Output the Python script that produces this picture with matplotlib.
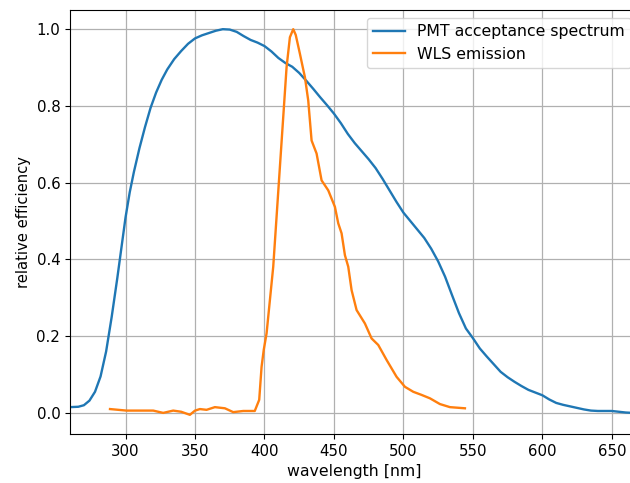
import matplotlib
matplotlib.use("Agg")
import matplotlib.pyplot as plt

# PMT acceptance spectrum
pmt_wl = [260, 266, 270, 274, 278, 282, 286, 290, 294, 297, 300, 303, 306, 310, 314,
          318, 322, 326, 330, 335, 340, 345, 350, 355, 360, 365, 370, 375, 380, 385,
          390, 395, 400, 405, 410, 415, 420, 425, 430, 435, 440, 445, 450, 455, 460,
          465, 470, 475, 480, 485, 490, 495, 500, 505, 510, 515, 520, 525, 530, 535,
          540, 545, 550, 555, 560, 565, 570, 575, 580, 585, 590, 595, 600, 605, 610,
          615, 620, 625, 630, 635, 640, 645, 650, 655, 660, 665, 670]
pmt_eff = [0.015, 0.016, 0.020, 0.032, 0.055, 0.095, 0.160, 0.250, 0.350, 0.430, 0.510,
           0.575, 0.628, 0.690, 0.745, 0.795, 0.835, 0.868, 0.895, 0.922, 0.943, 0.962,
           0.976, 0.984, 0.990, 0.996, 1.000, 0.999, 0.993, 0.982, 0.972, 0.965, 0.956,
           0.942, 0.925, 0.912, 0.902, 0.886, 0.866, 0.845, 0.823, 0.802, 0.780, 0.755,
           0.727, 0.703, 0.682, 0.661, 0.638, 0.610, 0.580, 0.550, 0.522, 0.500, 0.478,
           0.456, 0.428, 0.395, 0.355, 0.307, 0.260, 0.220, 0.195, 0.168, 0.147, 0.127,
           0.107, 0.093, 0.081, 0.070, 0.060, 0.053, 0.046, 0.035, 0.026, 0.021, 0.017,
           0.013, 0.009, 0.006, 0.005, 0.005, 0.005, 0.003, 0.001, 0.000, -0.001]

# WLS emission spectrum
wls_wl = [288.8, 300.7, 310, 319.9, 327.1, 334.3, 340, 346.3, 350, 353.5, 358.3, 364.3,
          371.5, 377.5, 384.7, 393, 396.2, 397.9, 399.5, 401.5, 403.9, 406.3, 408.7,
          411.1, 413.5, 415.9, 418.3, 420.7, 422.5, 425.5, 427.9, 429.1, 431.5, 433.9,
          437.5, 441.1, 445.9, 450.7, 453.1, 455.5, 457.9, 460.3, 462.7, 466.3, 472.3,
          477.1, 481.9, 487.9, 495.1, 501.1, 507.1, 513, 519.1, 526.3, 533.5, 544.3]
wls_em = [0.010, 0.006, 0.006, 0.006, 0.000, 0.006, 0.003, -0.005, 0.006, 0.010, 0.008,
          0.015, 0.012, 0.002, 0.005, 0.005, 0.034, 0.120, 0.165, 0.207, 0.294, 0.381,
          0.511, 0.641, 0.771, 0.901, 0.979, 1.000, 0.985, 0.936, 0.895, 0.875, 0.814,
          0.710, 0.676, 0.606, 0.580, 0.537, 0.494, 0.468, 0.411, 0.381, 0.320, 0.268,
          0.233, 0.194, 0.177, 0.138, 0.094, 0.068, 0.055, 0.047, 0.038, 0.023, 0.015,
          0.012]

fig = plt.figure(figsize=(6.3, 4.83), dpi=100)
# the reference is cropped on the right: axes run past the image edge
ax = fig.add_axes([70 / 630, 1 - 434 / 483, 569 / 630, 424 / 483])

ax.plot(pmt_wl, pmt_eff, lw=1.7, label="PMT acceptance spectrum")
ax.plot(wls_wl, wls_em, lw=1.7, label="WLS emission")

ax.set_xlim(260, 669.6)
ax.set_ylim(-0.055, 1.05)
ax.set_xlabel("wavelength [nm]", fontsize=11.3)
ax.set_ylabel("relative efficiency", fontsize=10.6)
ax.tick_params(labelsize=10.8)
ax.grid(True, lw=0.9)
ax.legend(loc="upper right", fontsize=11.3)

fig.savefig("out.png")
